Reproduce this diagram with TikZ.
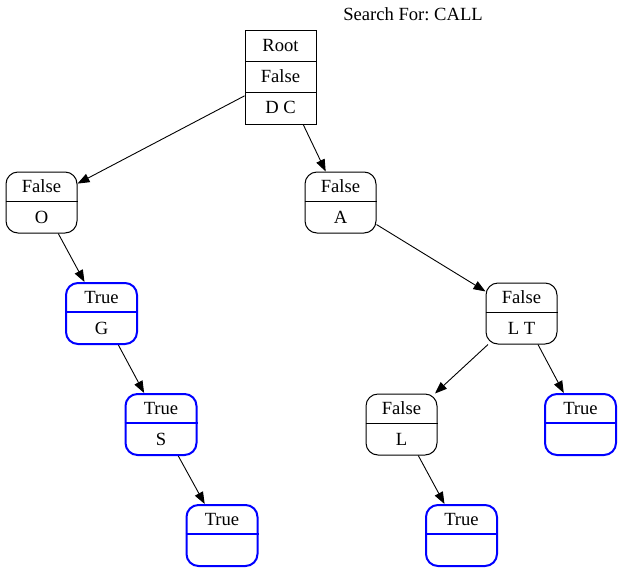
\documentclass[tikz,border=0pt]{standalone}
\usepackage{fontspec}
\setmainfont{Liberation Serif}
\usetikzlibrary{arrows.meta}
\frenchspacing
\tikzset{
  box/.style={draw=black, line width=1pt, inner sep=0pt, minimum width=71pt, minimum height=61pt, rounded corners=12pt},
  hit/.style={box, draw=blue, line width=2pt},
  divblack/.style={draw=black, line width=1pt},
  divblue/.style={draw=blue, line width=2pt},
  txt/.style={font=\fontsize{18.6}{20}\selectfont, inner sep=0pt},
  edge/.style={draw=black, line width=0.9pt, -{Triangle[length=12pt,width=9pt]}}
}
\newcommand\tnode[6]{%
  \node[#5] (#1) at (#2) {};
  \draw[#6] ([yshift=1.5pt]#1.west) -- ([yshift=1.5pt]#1.east);
  \node[txt] at ([yshift=16pt]#1.center) {#3};
  \node[txt] at ([yshift=-15pt]#1.center) {#4};
}
\begin{document}
\begin{tikzpicture}[x=1pt,y=-1pt]
\useasboundingbox (0,0) rectangle (623,573);
\node[txt] (title) at (413,14) {Search For: CALL};
% root
\node[draw=black, line width=1pt, inner sep=0pt, minimum width=71pt, minimum height=94pt] (root) at (280.5,77) {};
\draw[divblack] (245,61) -- (316,61);
\draw[divblack] (245,92) -- (316,92);
\node[txt] (rt1) at (280.5,45.5) {Root};
\node[txt] (rt2) at (280.5,76.5) {False};
\node[txt] (rt3) at (280.5,107.5) {D C};
% nodes
\tnode{O}{41.5,202.5}{False}{O}{box}{divblack}
\tnode{G}{101.5,313.5}{True}{G}{hit}{divblue}
\tnode{S}{161,424.5}{True}{S}{hit}{divblue}
\tnode{T1}{222,535.5}{True}{}{hit}{divblue}
\tnode{A}{340.5,202.5}{False}{A}{box}{divblack}
\tnode{LT}{521.5,313.5}{False}{L T}{box}{divblack}
\tnode{L}{401.5,424.5}{False}{L}{box}{divblack}
\tnode{T2}{461.5,535.5}{True}{}{hit}{divblue}
\tnode{T3}{580.5,424.5}{True}{}{hit}{divblue}
% edges
\draw[edge] (root) -- (O);
\draw[edge] (root) -- (A);
\draw[edge] (O) -- (G);
\draw[edge] (G) -- (S);
\draw[edge] (S) -- (T1);
\draw[edge] (A) -- (LT);
\draw[edge] (LT) -- (L);
\draw[edge] (LT) -- (T3);
\draw[edge] (L) -- (T2);
\end{tikzpicture}
\end{document}
